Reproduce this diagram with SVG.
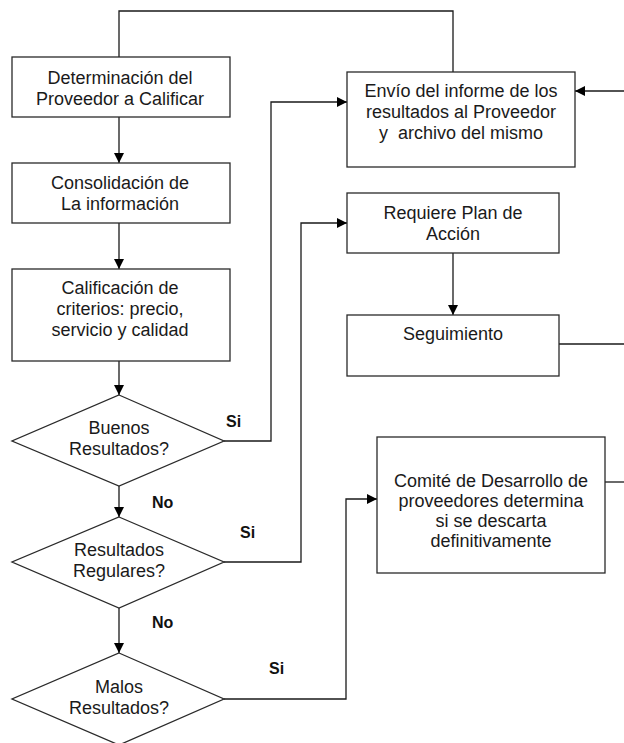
<svg xmlns="http://www.w3.org/2000/svg" width="624" height="743" viewBox="0 0 624 743">
<style>
.b{fill:#fff;stroke:#2a2a2a;stroke-width:1.3}
.t{font-family:"Liberation Sans",Arial,sans-serif;font-size:18px;fill:#1a1a1a;text-anchor:middle}
.l{font-family:"Liberation Sans",Arial,sans-serif;font-size:16px;font-weight:bold;fill:#111}
.c{fill:none;stroke:#1a1a1a;stroke-width:1.3}
</style>
<defs>
<marker id="a" markerWidth="10" markerHeight="10" refX="10" refY="5" orient="auto" markerUnits="userSpaceOnUse"><path d="M0,0 L10,5 L0,10 z" fill="#000"/></marker>
</defs>
<rect width="624" height="743" fill="#fff"/>
<g id="connectors">
<path class="c" d="M453,72 V11 H119 V57"/>
<path class="c" d="M119,117 V163" marker-end="url(#a)"/>
<path class="c" d="M119,223 V269" marker-end="url(#a)"/>
<path class="c" d="M119,361 V395" marker-end="url(#a)"/>
<path class="c" d="M119,486 V517" marker-end="url(#a)"/>
<path class="c" d="M119,608 V653" marker-end="url(#a)"/>
<path class="c" d="M224,441 H271 V102 H347" marker-end="url(#a)"/>
<path class="c" d="M224,562 H301 V223 H347" marker-end="url(#a)"/>
<path class="c" d="M224,699 H346 V499 H377" marker-end="url(#a)"/>
<path class="c" d="M624,91 H575" marker-end="url(#a)"/>
<path class="c" d="M453,253 V315" marker-end="url(#a)"/>
<path class="c" d="M559,344 H624"/>
<path class="c" d="M605,482 H624"/>
</g>
<g id="n1"><rect class="b" x="12" y="57" width="218" height="60"/><text class="t" x="120" y="84">Determinación del</text><text class="t" x="120" y="105">Proveedor a Calificar</text></g>
<g id="n2"><rect class="b" x="12" y="163" width="218" height="60"/><text class="t" x="120" y="189">Consolidación de</text><text class="t" x="120" y="210">La información</text></g>
<g id="n3"><rect class="b" x="12" y="269" width="218" height="92"/><text class="t" x="120" y="294">Calificación de</text><text class="t" x="120" y="315">criterios: precio,</text><text class="t" x="120" y="336">servicio y calidad</text></g>
<g id="d1"><polygon class="b" points="119,395 224,441 119,486 12,441"/><text class="t" x="119" y="434">Buenos</text><text class="t" x="119" y="455">Resultados?</text></g>
<g id="d2"><polygon class="b" points="119,517 224,562 119,608 12,562"/><text class="t" x="119" y="556">Resultados</text><text class="t" x="119" y="577">Regulares?</text></g>
<g id="d3"><polygon class="b" points="119,653 224,699 119,745 12,699"/><text class="t" x="119" y="693">Malos</text><text class="t" x="119" y="714">Resultados?</text></g>
<g id="n4"><rect class="b" x="347" y="72" width="228" height="95"/><text class="t" x="461" y="97">Envío del informe de los</text><text class="t" x="461" y="118">resultados al Proveedor</text><text class="t" x="461" y="139" xml:space="preserve">y  archivo del mismo</text></g>
<g id="n5"><rect class="b" x="347" y="193" width="212" height="60"/><text class="t" x="453" y="219">Requiere Plan de</text><text class="t" x="453" y="240">Acción</text></g>
<g id="n6"><rect class="b" x="347" y="315" width="212" height="61"/><text class="t" x="453" y="340">Seguimiento</text></g>
<g id="n7"><rect class="b" x="377" y="437" width="228" height="136"/><text class="t" x="491" y="487">Comité de Desarrollo de</text><text class="t" x="491" y="507">proveedores determina</text><text class="t" x="491" y="527">si se descarta</text><text class="t" x="491" y="547">definitivamente</text></g>
<g id="labels">
<text class="l" x="226" y="427">Si</text>
<text class="l" x="152" y="508">No</text>
<text class="l" x="240" y="538">Si</text>
<text class="l" x="152" y="628">No</text>
<text class="l" x="269" y="674">Si</text>
</g>
</svg>
